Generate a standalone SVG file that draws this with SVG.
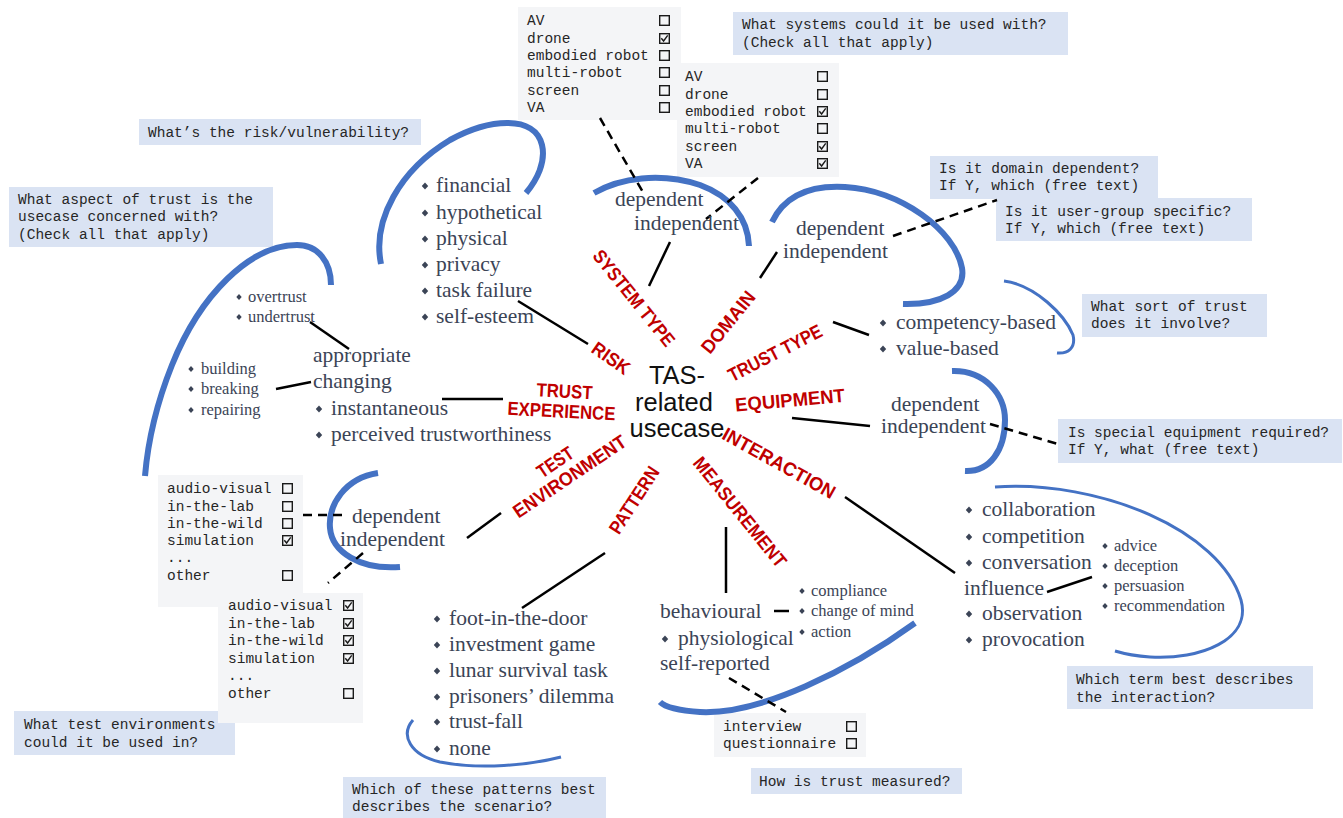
<svg xmlns="http://www.w3.org/2000/svg" xmlns:xlink="http://www.w3.org/1999/xlink" width="1343" height="818" viewBox="0 0 1343 818">
<style>
.q{font-family:"Liberation Mono","Courier New",monospace;font-size:14.5px;fill:#262626}
.qb{fill:#dae3f3}
.gb{fill:#f4f5f7}
.s{font-family:"Liberation Serif","Times New Roman",serif;font-size:21.5px;fill:#3b4456}
.ss{font-family:"Liberation Serif","Times New Roman",serif;font-size:16.5px;fill:#3b4456}
.r{font-family:"Liberation Sans",Arial,sans-serif;font-size:19px;font-weight:bold;fill:#c00000}
.c{font-family:"Liberation Sans",Arial,sans-serif;font-size:25.5px;fill:#111}
.arc{fill:none;stroke:#4472c4;stroke-width:6;stroke-linecap:butt}
.arct{fill:none;stroke:#4472c4;stroke-width:3}
.ln{stroke:#000;stroke-width:2.5;fill:none}
.dl{stroke:#000;stroke-width:2.5;fill:none;stroke-dasharray:9 6}
.bx{fill:none;stroke:#1a1a1a;stroke-width:1.4}
.b{fill:#3b4456}
</style>
<defs>
<path id="d" class="b" d="M0,-3.6 L3.2,0 L0,3.6 L-3.2,0Z"/>
<path id="ds" class="b" d="M0,-3 L2.7,0 L0,3 L-2.7,0Z"/>
<g id="cb"><rect class="bx" x="0.7" y="0.7" width="9.6" height="9.6"/></g>
<g id="cbx"><rect class="bx" x="0.7" y="0.7" width="9.6" height="9.6"/><polyline class="bx" points="2.3,5.2 4.6,8 8.7,2.4" stroke-width="1.5"/></g>
</defs>
<rect width="1343" height="818" fill="#fff"/>

<!-- question boxes -->
<g id="q-risk"><rect class="qb" x="139" y="119" width="282" height="26"/><text class="q" x="148" y="137">What’s the risk/vulnerability?</text></g>
<g id="q-aspect"><rect class="qb" x="9" y="187" width="264" height="60"/><text class="q" x="18" y="204">What aspect of trust is the</text><text class="q" x="18" y="221">usecase concerned with?</text><text class="q" x="18" y="239">(Check all that apply)</text></g>
<g id="q-systems"><rect class="qb" x="733" y="12" width="335" height="43"/><text class="q" x="742" y="29">What systems could it be used with?</text><text class="q" x="742" y="47">(Check all that apply)</text></g>
<g id="q-domain"><rect class="qb" x="930" y="156" width="228" height="43"/><text class="q" x="939" y="173">Is it domain dependent?</text><text class="q" x="939" y="190">If Y, which (free text)</text></g>
<g id="q-usergroup"><rect class="qb" x="996" y="198" width="256" height="43"/><text class="q" x="1005" y="216">Is it user-group specific?</text><text class="q" x="1005" y="233">If Y, which (free text)</text></g>
<g id="q-trusttype"><rect class="qb" x="1082" y="294" width="185" height="43"/><text class="q" x="1091" y="311">What sort of trust</text><text class="q" x="1091" y="328">does it involve?</text></g>
<g id="q-equipment"><rect class="qb" x="1058" y="419" width="284" height="44"/><text class="q" x="1068" y="437">Is special equipment required?</text><text class="q" x="1068" y="454">If Y, what (free text)</text></g>
<g id="q-interaction"><rect class="qb" x="1067" y="666" width="246" height="43"/><text class="q" x="1076" y="684">Which term best describes</text><text class="q" x="1076" y="702">the interaction?</text></g>
<g id="q-measured"><rect class="qb" x="751" y="768" width="211" height="26"/><text class="q" x="759" y="786">How is trust measured?</text></g>
<g id="q-patterns"><rect class="qb" x="343" y="777" width="263" height="41"/><text class="q" x="352" y="794">Which of these patterns best</text><text class="q" x="352" y="811">describes the scenario?</text></g>
<g id="q-testenv"><rect class="qb" x="14" y="711" width="221" height="44"/><text class="q" x="24" y="729">What test environments</text><text class="q" x="24" y="747">could it be used in?</text></g>

<!-- checkbox boxes -->
<g id="cb-system-a"><rect class="gb" x="518" y="7" width="163" height="113"/>
<text class="q" x="527" y="25">AV</text><text class="q" x="527" y="43">drone</text><text class="q" x="527" y="60">embodied robot</text><text class="q" x="527" y="77">multi-robot</text><text class="q" x="527" y="95">screen</text><text class="q" x="527" y="112">VA</text>
<use xlink:href="#cb" x="659" y="15"/><use xlink:href="#cbx" x="659" y="33"/><use xlink:href="#cb" x="659" y="50"/><use xlink:href="#cb" x="659" y="67"/><use xlink:href="#cb" x="659" y="85"/><use xlink:href="#cb" x="659" y="102"/></g>
<g id="cb-system-b"><rect class="gb" x="677" y="63" width="162" height="114"/>
<text class="q" x="685" y="81">AV</text><text class="q" x="685" y="99">drone</text><text class="q" x="685" y="116">embodied robot</text><text class="q" x="685" y="133">multi-robot</text><text class="q" x="685" y="151">screen</text><text class="q" x="685" y="168">VA</text>
<use xlink:href="#cb" x="817" y="71"/><use xlink:href="#cb" x="817" y="89"/><use xlink:href="#cbx" x="817" y="106"/><use xlink:href="#cb" x="817" y="123"/><use xlink:href="#cbx" x="817" y="141"/><use xlink:href="#cbx" x="817" y="158"/></g>
<g id="cb-testenv-a"><rect class="gb" x="158" y="475" width="145" height="132"/>
<text class="q" x="167" y="493">audio-visual</text><text class="q" x="167" y="511">in-the-lab</text><text class="q" x="167" y="528">in-the-wild</text><text class="q" x="167" y="545">simulation</text><text class="q" x="167" y="562">...</text><text class="q" x="167" y="580">other</text>
<use xlink:href="#cb" x="282" y="483"/><use xlink:href="#cb" x="282" y="501"/><use xlink:href="#cb" x="282" y="518"/><use xlink:href="#cbx" x="282" y="535"/><use xlink:href="#cb" x="282" y="570"/></g>
<g id="cb-testenv-b"><rect class="gb" x="218" y="593" width="145" height="130"/>
<text class="q" x="228" y="610">audio-visual</text><text class="q" x="228" y="628">in-the-lab</text><text class="q" x="228" y="645">in-the-wild</text><text class="q" x="228" y="663">simulation</text><text class="q" x="228" y="680">...</text><text class="q" x="228" y="698">other</text>
<use xlink:href="#cbx" x="343" y="600"/><use xlink:href="#cbx" x="343" y="618"/><use xlink:href="#cbx" x="343" y="635"/><use xlink:href="#cbx" x="343" y="653"/><use xlink:href="#cb" x="343" y="688"/></g>
<g id="cb-measure"><rect class="gb" x="714" y="713" width="152" height="44"/>
<text class="q" x="723" y="731">interview</text><text class="q" x="723" y="748">questionnaire</text>
<use xlink:href="#cb" x="846" y="721"/><use xlink:href="#cb" x="846" y="738"/></g>

<!-- arcs -->
<g id="arcs">
<path class="arc" d="M381,264 C372,220 400,170 450,140 C490,118 535,115 542,145 C546,162 537,180 526,193"/>
<path class="arc" d="M331,285 C331,262 318,245 297,245 C250,245 200,295 172,365 C156,405 148,440 145,476" stroke-width="7"/>
<path class="arc" d="M594,193 C620,178 660,172 700,185 C730,196 748,218 749,246"/>
<path class="arc" d="M772,222 C785,195 810,185 845,187 C900,190 955,230 962,268 C966,292 940,305 903,304"/>
<path class="arct" d="M1004,281 C1035,285 1065,315 1073,335 C1076,348 1068,354 1057,353" stroke-width="4"/>
<path class="arc" d="M952,371 C985,370 1005,395 1005,420 C1005,450 990,472 965,471"/>
<path class="arct" d="M995,487 C1100,480 1220,530 1241,600 C1252,640 1200,660 1150,657 C1135,656 1125,654 1115,651"/>
<path class="arc" d="M915,623 C850,670 760,715 700,712 C680,711 665,707 660,702" stroke="#2f5597"/>
<path class="arct" d="M413,720 C400,735 410,755 440,762 C480,770 530,765 561,757"/>
<path class="arc" d="M378,473 C345,478 328,505 330,528 C332,552 360,570 400,567"/>
</g>

<!-- connectors -->
<g id="connectors">
<line class="ln" x1="518" y1="301" x2="588" y2="344"/>
<line class="ln" x1="649" y1="286" x2="670" y2="242"/>
<line class="ln" x1="760" y1="278" x2="777" y2="252"/>
<line class="ln" x1="833" y1="322" x2="869" y2="335"/>
<line class="ln" x1="792" y1="418" x2="870" y2="426"/>
<line class="ln" x1="845" y1="497" x2="955" y2="573"/>
<line class="ln" x1="726" y1="527" x2="726" y2="593"/>
<line class="ln" x1="605" y1="553" x2="522" y2="608"/>
<line class="ln" x1="467" y1="538" x2="501" y2="513"/>
<line class="ln" x1="442" y1="399" x2="503" y2="399"/>
<line class="ln" x1="310" y1="322" x2="349" y2="349"/>
<line class="ln" x1="276" y1="389" x2="311" y2="382"/>
<line class="ln" x1="1047" y1="592" x2="1092" y2="577"/>
<line class="ln" x1="774" y1="611" x2="789" y2="611"/>
<line class="dl" x1="600" y1="118" x2="644" y2="194"/>
<line class="dl" x1="758" y1="178" x2="706" y2="219"/>
<line class="dl" x1="893" y1="236" x2="997" y2="200"/>
<line class="dl" x1="990" y1="424" x2="1058" y2="444"/>
<line class="dl" x1="729" y1="678" x2="786" y2="712"/>
<line class="dl" x1="303" y1="515" x2="345" y2="515"/>
<line class="dl" x1="363" y1="553" x2="328" y2="583"/>
</g>

<!-- center -->
<g id="center">
<text class="c" x="677" y="384" text-anchor="middle">TAS-</text>
<text class="c" x="674" y="411" text-anchor="middle">related</text>
<text class="c" x="677" y="437" text-anchor="middle">usecase</text>
</g>

<!-- branch labels -->
<g id="labels">
<text class="r" transform="translate(634,298) rotate(51)" text-anchor="middle" dy="0.35em" textLength="118" lengthAdjust="spacingAndGlyphs">SYSTEM TYPE</text>
<text class="r" transform="translate(611,358) rotate(35)" text-anchor="middle" dy="0.35em" textLength="42" lengthAdjust="spacingAndGlyphs">RISK</text>
<text class="r" transform="translate(728,322) rotate(-51)" text-anchor="middle" dy="0.35em" textLength="74" lengthAdjust="spacingAndGlyphs">DOMAIN</text>
<text class="r" transform="translate(775,353) rotate(-27)" text-anchor="middle" dy="0.35em" textLength="103" lengthAdjust="spacingAndGlyphs">TRUST TYPE</text>
<text class="r" transform="translate(790,400) rotate(-5)" text-anchor="middle" dy="0.35em" textLength="110" lengthAdjust="spacingAndGlyphs">EQUIPMENT</text>
<text class="r" transform="translate(779,463) rotate(29)" text-anchor="middle" dy="0.35em" textLength="126" lengthAdjust="spacingAndGlyphs">INTERACTION</text>
<text class="r" transform="translate(740,512) rotate(51)" text-anchor="middle" dy="0.35em" textLength="136" lengthAdjust="spacingAndGlyphs">MEASUREMENT</text>
<text class="r" transform="translate(634,500) rotate(-57)" text-anchor="middle" dy="0.35em" textLength="76" lengthAdjust="spacingAndGlyphs">PATTERN</text>
<g transform="translate(564,468) rotate(-34)">
<text class="r" x="-4" y="-10" text-anchor="middle" dy="0.35em" textLength="40" lengthAdjust="spacingAndGlyphs">TEST</text>
<text class="r" x="0" y="10" text-anchor="middle" dy="0.35em" textLength="132" lengthAdjust="spacingAndGlyphs">ENVIRONMENT</text>
</g>
<g transform="translate(562,401) rotate(3)">
<text class="r" x="2" y="-10" text-anchor="middle" dy="0.35em" textLength="56" lengthAdjust="spacingAndGlyphs">TRUST</text>
<text class="r" x="0" y="10" text-anchor="middle" dy="0.35em" textLength="108" lengthAdjust="spacingAndGlyphs">EXPERIENCE</text>
</g>
</g>

<!-- risk -->
<g id="risk">
<use xlink:href="#d" x="425" y="186"/><text class="s" x="436" y="192">financial</text>
<use xlink:href="#d" x="425" y="213"/><text class="s" x="436" y="219">hypothetical</text>
<use xlink:href="#d" x="425" y="239"/><text class="s" x="436" y="245">physical</text>
<use xlink:href="#d" x="425" y="265"/><text class="s" x="436" y="271">privacy</text>
<use xlink:href="#d" x="425" y="291"/><text class="s" x="436" y="297">task failure</text>
<use xlink:href="#d" x="425" y="317"/><text class="s" x="436" y="323">self-esteem</text>
</g>

<!-- trust experience -->
<g id="trust-experience">
<use xlink:href="#ds" x="239" y="297"/><text class="ss" x="248" y="302">overtrust</text>
<use xlink:href="#ds" x="239" y="317"/><text class="ss" x="248" y="322">undertrust</text>
<use xlink:href="#ds" x="191" y="369"/><text class="ss" x="201" y="374">building</text>
<use xlink:href="#ds" x="191" y="389"/><text class="ss" x="201" y="394">breaking</text>
<use xlink:href="#ds" x="191" y="410"/><text class="ss" x="201" y="415">repairing</text>
<text class="s" x="313" y="362">appropriate</text>
<text class="s" x="313" y="388">changing</text>
<use xlink:href="#d" x="319" y="409"/><text class="s" x="331" y="415">instantaneous</text>
<use xlink:href="#d" x="319" y="435"/><text class="s" x="331" y="441">perceived trustworthiness</text>
</g>

<!-- system type -->
<g id="system-type">
<text class="s" x="615" y="206">dependent</text>
<text class="s" x="634" y="230">independent</text>
</g>

<!-- domain -->
<g id="domain">
<text class="s" x="796" y="235">dependent</text>
<text class="s" x="783" y="258">independent</text>
</g>

<!-- trust type -->
<g id="trust-type">
<use xlink:href="#d" x="883" y="323"/><text class="s" x="896" y="329">competency-based</text>
<use xlink:href="#d" x="883" y="349"/><text class="s" x="896" y="355">value-based</text>
</g>

<!-- equipment -->
<g id="equipment">
<text class="s" x="891" y="411">dependent</text>
<text class="s" x="881" y="433">independent</text>
</g>

<!-- interaction -->
<g id="interaction">
<use xlink:href="#d" x="969" y="510"/><text class="s" x="982" y="516">collaboration</text>
<use xlink:href="#d" x="969" y="537"/><text class="s" x="982" y="543">competition</text>
<use xlink:href="#d" x="969" y="563"/><text class="s" x="982" y="569">conversation</text>
<text class="s" x="964" y="595">influence</text>
<use xlink:href="#d" x="969" y="614"/><text class="s" x="982" y="620">observation</text>
<use xlink:href="#d" x="969" y="640"/><text class="s" x="982" y="646">provocation</text>
<use xlink:href="#ds" x="1105" y="546"/><text class="ss" x="1114" y="551">advice</text>
<use xlink:href="#ds" x="1105" y="566"/><text class="ss" x="1114" y="571">deception</text>
<use xlink:href="#ds" x="1105" y="586"/><text class="ss" x="1114" y="591">persuasion</text>
<use xlink:href="#ds" x="1105" y="606"/><text class="ss" x="1114" y="611">recommendation</text>
</g>

<!-- measurement -->
<g id="measurement">
<text class="s" x="660" y="618">behavioural</text>
<use xlink:href="#d" x="665" y="639"/><text class="s" x="678" y="645">physiological</text>
<text class="s" x="660" y="670">self-reported</text>
<use xlink:href="#ds" x="802" y="591"/><text class="ss" x="811" y="596">compliance</text>
<use xlink:href="#ds" x="802" y="611"/><text class="ss" x="811" y="616">change of mind</text>
<use xlink:href="#ds" x="802" y="632"/><text class="ss" x="811" y="637">action</text>
</g>

<!-- pattern -->
<g id="pattern">
<use xlink:href="#d" x="437" y="619"/><text class="s" x="449" y="625">foot-in-the-door</text>
<use xlink:href="#d" x="437" y="645"/><text class="s" x="449" y="651">investment game</text>
<use xlink:href="#d" x="437" y="671"/><text class="s" x="449" y="677">lunar survival task</text>
<use xlink:href="#d" x="437" y="697"/><text class="s" x="449" y="703">prisoners’ dilemma</text>
<use xlink:href="#d" x="437" y="722"/><text class="s" x="449" y="728">trust-fall</text>
<use xlink:href="#d" x="437" y="749"/><text class="s" x="449" y="755">none</text>
</g>

<!-- test environment -->
<g id="test-environment">
<text class="s" x="352" y="523">dependent</text>
<text class="s" x="340" y="546">independent</text>
</g>
</svg>
